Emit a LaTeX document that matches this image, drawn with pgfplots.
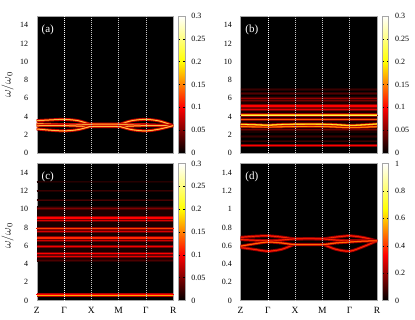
\documentclass[border=0pt]{standalone}
\usepackage{fontspec}
\setmainfont{Liberation Serif}
\usepackage{pgfplots}
\pgfplotsset{compat=1.18}
\pgfplotsset{colormap={hot}{rgb=(0,0,0) rgb=(1,0,0) rgb=(1,1,0) rgb=(1,1,1)}}
\pgfplotsset{
  /pgf/number format/assume math mode=true,
  panel/.style={
    scale only axis, width=136.5pt, height=137pt,
    xmin=0, xmax=5, ymin=0,
    axis background/.style={fill=black},
    axis line style={gray!70},
    xtick={0,1,2,3,4,5},
    xticklabels={},
    tick style={draw=none},
    tick label style={font=\fontsize{8}{9}\selectfont},
    yticklabel style={xshift=-5pt},
    xticklabel style={font=\fontsize{9.5}{10}\selectfont, yshift=-3pt},
    colormap name=hot,
    colorbar,
    point meta min=0,
    colorbar style={
      at={(parent axis.north east)}, anchor=north west, xshift=-3.5pt,
      scale only axis, width=6.5pt, height=137pt,
      axis line style={gray!70},
      tick align=inside, major tick length=2pt,
      ytick style={draw=black, line width=0.4pt},
      yticklabel style={font=\fontsize{8}{9}\selectfont, xshift=3pt,
        /pgf/number format/fixed, /pgf/number format/precision=2},
    },
  },
}
% band with glow: outer, mid, core colour, core width, coordinates
\newcommand{\band}[5]{%
  \addplot[smooth, forget plot, line width=3pt, #1] coordinates {#5};
  \addplot[smooth, forget plot, line width=1.5pt, #2] coordinates {#5};
  \addplot[smooth, forget plot, line width=#4, #3] coordinates {#5};
}
% flat level: y, outer colour, outer width, core colour, core width
\newcommand{\lvl}[5]{%
  \addplot[forget plot, line width=#3, #2] coordinates {(0,#1)(5,#1)};
  \addplot[forget plot, line width=#5, #4] coordinates {(0,#1)(5,#1)};
}
\newcommand{\vlines}[1]{%
  \addplot[forget plot, white!95!gray, line width=0.6pt, dash pattern=on 1pt off 1pt] coordinates {(1,0)(1,#1)};
  \addplot[forget plot, white!55!gray, line width=0.6pt, dash pattern=on 1pt off 1pt] coordinates {(2,0)(2,#1)};
  \addplot[forget plot, white!55!gray, line width=0.6pt, dash pattern=on 1pt off 1pt] coordinates {(3,0)(3,#1)};
  \addplot[forget plot, white!55!gray, line width=0.6pt, dash pattern=on 1pt off 1pt] coordinates {(4,0)(4,#1)};
}
\begin{document}
\begin{tikzpicture}
\useasboundingbox (0pt,0pt) rectangle (415pt,-319pt);
% ---------------- (a)
\begin{axis}[panel, at={(36.7pt,-16pt)}, anchor=north west,
  ymax=15, ytick={0,2,4,6,8,10,12,14},
  point meta max=0.3,
  colorbar style={ytick={0,0.05,0.1,0.15,0.2,0.25,0.3}}]
\band{red!75!black}{red!40!orange}{yellow!60!white}{0.5pt}{(0,3.54)(0.5,3.62)(1,3.68)(1.5,3.55)(1.9,3.2)(2,3.15)(3,3.15)(3.1,3.2)(3.5,3.55)(4,3.68)(4.5,3.5)(5,3.0)}
\band{red!75!black}{red!40!orange}{yellow!60!white}{0.5pt}{(0,3.2)(0.5,3.15)(1,3.1)(1.5,3.1)(2,3.15)(3,3.15)(3.5,3.1)(4,3.1)(4.5,3.05)(5,3.0)}
\band{red!75!black}{red!40!orange}{yellow!60!white}{0.5pt}{(0,2.98)(0.5,3.0)(1,3.0)(1.5,2.95)(2,2.9)(3,2.9)(3.5,2.95)(4,3.0)(4.5,3.0)(5,3.0)}
\band{red!75!black}{red!40!orange}{yellow!60!white}{0.5pt}{(0,2.63)(0.5,2.5)(1,2.42)(1.5,2.55)(1.9,2.85)(2,2.9)(3,2.9)(3.1,2.85)(3.5,2.55)(4,2.42)(4.5,2.62)(5,3.0)}
\vlines{15}
\node[white, anchor=north west, font=\fontsize{11}{12}\selectfont, inner sep=0pt] at (rel axis cs:0.035,0.94) {(a)};
\end{axis}
% ---------------- (b)
\begin{axis}[panel, at={(240.5pt,-16pt)}, anchor=north west,
  ymax=15, ytick={0,2,4,6,8,10,12,14},
  point meta max=0.3,
  colorbar style={ytick={0,0.05,0.1,0.15,0.2,0.25,0.3}}]
\addplot[forget plot, fill=red!10!black, draw=none] coordinates {(0,2.2)(5,2.2)(5,6.2)(0,6.2)} -- cycle;
\lvl{6.97}{red!12!black}{3pt}{red!22!black}{1pt}
\lvl{6.5}{red!18!black}{3pt}{red!32!black}{1pt}
\lvl{5.99}{red!30!black}{3pt}{red!60!black}{1.2pt}
\lvl{5.73}{red!25!black}{2.5pt}{red!45!black}{1pt}
\lvl{5.15}{red!50!black}{3.5pt}{red}{1.3pt}
\lvl{4.78}{red!45!black}{3pt}{red!90!black}{1.1pt}
\lvl{4.16}{red!60!black}{3.5pt}{red!40!yellow}{1.2pt}
\lvl{4.16}{red!60!black}{0pt}{yellow!70!white}{0.4pt}
\lvl{3.69}{red!50!black}{3pt}{red!65!yellow}{1.1pt}
\band{red!55!black}{red!65!yellow}{red!40!yellow}{0.6pt}{(0,2.9)(1,2.85)(2,2.9)(3,2.9)(4,2.8)(5,2.88)}
\band{red!75!black}{red!35!yellow}{yellow!80!white}{0.6pt}{(0,3.14)(0.5,3.1)(1,3.05)(1.5,3.12)(2,3.15)(3,3.15)(3.5,3.1)(4,3.02)(4.5,3.08)(5,3.18)}
\lvl{2.52}{red!25!black}{2.5pt}{red!45!black}{1pt}
\lvl{1.79}{red!12!black}{2.5pt}{red!22!black}{1pt}
\lvl{1.31}{red!12!black}{2.5pt}{red!22!black}{1pt}
\lvl{0.8}{red!50!black}{3.5pt}{red}{1.2pt}
\vlines{15}
\node[white, anchor=north west, font=\fontsize{11}{12}\selectfont, inner sep=0pt] at (rel axis cs:0.035,0.94) {(b)};
\end{axis}
% ---------------- (c)
\begin{axis}[panel, at={(36.7pt,-163.5pt)}, anchor=north west,
  ymax=15, ytick={0,2,4,6,8,10,12,14},
  point meta max=0.3,
  xticklabels={Z,Γ,X,M,Γ,R},
  colorbar style={ytick={0,0.05,0.1,0.15,0.2,0.25,0.3}}]
\addplot[forget plot, fill=red!10!black, draw=none] coordinates {(0,4.2)(5,4.2)(5,10.3)(0,10.3)} -- cycle;
\lvl{13.0}{red!8!black}{2.5pt}{red!15!black}{1pt}
\lvl{12.0}{red!12!black}{2.5pt}{red!22!black}{1pt}
\lvl{11.0}{red!15!black}{2.5pt}{red!28!black}{1pt}
\lvl{10.04}{red!28!black}{3pt}{red!50!black}{1pt}
\lvl{9.05}{red!55!black}{4pt}{red}{1.5pt}
\lvl{8.76}{red!40!black}{2.5pt}{red!85!black}{1pt}
\lvl{7.88}{red!55!black}{3.5pt}{red}{1.3pt}
\lvl{7.88}{red}{0pt}{red!75!yellow}{0.4pt}
\lvl{7.58}{red!40!black}{2.5pt}{red!85!black}{1pt}
\lvl{6.86}{red!55!black}{3.5pt}{red!85!yellow}{1.3pt}
\lvl{6.56}{red!40!black}{2.5pt}{red!80!black}{1pt}
\lvl{5.93}{red!50!black}{3pt}{red!95!black}{1.2pt}
\lvl{5.1}{red!45!black}{3pt}{red}{1.1pt}
\lvl{4.77}{red!40!black}{3pt}{red!90!black}{1.1pt}
\lvl{4.4}{red!15!black}{2.5pt}{red!30!black}{1pt}
\lvl{0.63}{red!70!black}{4pt}{red!60!yellow}{1.6pt}
\lvl{0.63}{red}{0pt}{red!35!yellow}{0.5pt}
\vlines{15}
\node[white, anchor=north west, font=\fontsize{11}{12}\selectfont, inner sep=0pt] at (rel axis cs:0.035,0.94) {(c)};
\end{axis}
% ---------------- (d)
\begin{axis}[panel, at={(240.5pt,-163.5pt)}, anchor=north west,
  ymax=1.5, ytick={0,0.2,0.4,0.6,0.8,1,1.2,1.4},
  point meta max=1,
  xticklabels={Z,Γ,X,M,Γ,R},
  colorbar style={ytick={0,0.2,0.4,0.6,0.8,1}}]
\band{red!55!black}{red!90!black}{red!70!yellow}{0.4pt}{(0,0.692)(0.5,0.703)(1,0.708)(1.5,0.695)(1.9,0.678)(2,0.675)(3,0.675)(3.1,0.678)(3.5,0.695)(4,0.708)(4.5,0.69)(5,0.653)}
\band{red!55!black}{red!90!black}{red!70!yellow}{0.4pt}{(0,0.667)(0.5,0.66)(1,0.655)(1.5,0.662)(2,0.675)(3,0.675)(3.5,0.662)(4,0.655)(4.5,0.655)(5,0.653)}
\band{red!55!black}{red!90!black}{red!70!yellow}{0.4pt}{(0,0.58)(0.5,0.56)(1,0.54)(1.5,0.56)(1.9,0.605)(2,0.613)(3,0.613)(3.1,0.605)(3.5,0.56)(4,0.54)(4.5,0.59)(5,0.653)}
\band{red!60!black}{red!85!yellow}{red!45!yellow}{0.5pt}{(0,0.595)(0.5,0.62)(1,0.64)(1.5,0.63)(2,0.613)(3,0.613)(3.5,0.63)(4,0.64)(4.5,0.65)(5,0.653)}
\vlines{1.5}
\node[white, anchor=north west, font=\fontsize{11}{12}\selectfont, inner sep=0pt] at (rel axis cs:0.035,0.94) {(d)};
\end{axis}
\node[rotate=90, font=\fontsize{11.5}{12}\selectfont, inner sep=0pt] at (7.5pt,-85pt) {$\omega/\omega_0$};
\node[rotate=90, font=\fontsize{11.5}{12}\selectfont, inner sep=0pt] at (7.5pt,-236pt) {$\omega/\omega_0$};
\end{tikzpicture}
\end{document}
